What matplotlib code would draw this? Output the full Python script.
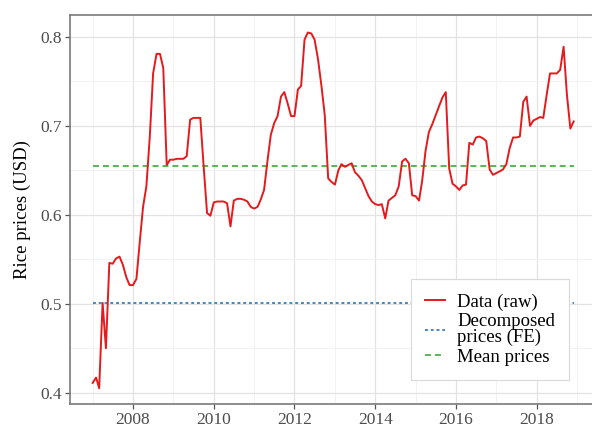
import numpy as np
import pandas as pd
import matplotlib
matplotlib.use("Agg")
import matplotlib.pyplot as plt
import matplotlib.dates as mdates
from matplotlib.ticker import MultipleLocator

# monthly rice prices (USD), Jan 2007 - Dec 2018
prices_2007 = [0.411, 0.417, 0.405, 0.501, 0.450, 0.546, 0.545, 0.551, 0.553, 0.544, 0.530, 0.521]
prices_2008 = [0.521, 0.528, 0.568, 0.609, 0.632, 0.688, 0.759, 0.781, 0.781, 0.765, 0.656, 0.662]
prices_2009 = [0.662, 0.663, 0.663, 0.663, 0.666, 0.707, 0.709, 0.709, 0.709, 0.655, 0.602, 0.599]
prices_2010 = [0.614, 0.615, 0.615, 0.615, 0.613, 0.587, 0.616, 0.618, 0.618, 0.617, 0.615, 0.609]
prices_2011 = [0.607, 0.609, 0.617, 0.628, 0.660, 0.690, 0.703, 0.711, 0.733, 0.738, 0.725, 0.711]
prices_2012 = [0.711, 0.741, 0.745, 0.797, 0.805, 0.804, 0.797, 0.775, 0.745, 0.712, 0.641, 0.637]
prices_2013 = [0.634, 0.650, 0.657, 0.654, 0.656, 0.658, 0.648, 0.644, 0.639, 0.630, 0.621, 0.615]
prices_2014 = [0.612, 0.611, 0.612, 0.596, 0.616, 0.619, 0.622, 0.632, 0.660, 0.663, 0.658, 0.622]
prices_2015 = [0.621, 0.616, 0.638, 0.672, 0.693, 0.702, 0.712, 0.722, 0.732, 0.738, 0.652, 0.635]
prices_2016 = [0.632, 0.628, 0.633, 0.634, 0.681, 0.679, 0.687, 0.688, 0.686, 0.683, 0.651, 0.645]
prices_2017 = [0.647, 0.649, 0.651, 0.657, 0.675, 0.687, 0.687, 0.688, 0.727, 0.733, 0.700, 0.706]
prices_2018 = [0.708, 0.710, 0.709, 0.735, 0.759, 0.759, 0.759, 0.763, 0.789, 0.735, 0.697, 0.705]

fe_price = 0.501     # decomposed prices (FE)
mean_price = 0.655   # mean prices

prices = np.concatenate([prices_2007, prices_2008, prices_2009, prices_2010,
                         prices_2011, prices_2012, prices_2013, prices_2014,
                         prices_2015, prices_2016, prices_2017, prices_2018])
dates = pd.date_range("2007-01-01", periods=len(prices), freq="MS")

plt.rcParams["font.family"] = ["Liberation Serif", "DejaVu Serif"]

fig = plt.figure(figsize=(5.92, 4.28), dpi=100)
ax = fig.add_axes([70 / 592, 24 / 428, 524 / 592, 389 / 428])

ax.plot(dates, prices, color="#E41A1C", lw=1.4, label="Data (raw)", zorder=3)
ax.plot(dates, np.full(len(dates), fe_price), color="#377EB8", lw=1.3,
        linestyle=(0, (1.6, 1.6)), label="Decomposed\nprices (FE)", zorder=2)
ax.plot(dates, np.full(len(dates), mean_price), color="#4DAF4A", lw=1.3,
        linestyle=(0, (3.3, 2.2)), label="Mean prices", zorder=2)

ax.set_xlim(pd.Timestamp("2006-06-10"), pd.Timestamp("2019-06-03"))
ax.set_ylim(0.3873, 0.8247)

ax.xaxis.set_major_locator(mdates.YearLocator(2, month=1, day=1))
ax.xaxis.set_major_formatter(mdates.DateFormatter("%Y"))
minor_years = pd.date_range("2007-01-01", "2019-01-01", freq="2YS")
ax.set_xticks(minor_years, minor=True)
ax.yaxis.set_major_locator(MultipleLocator(0.1))
ax.yaxis.set_minor_locator(MultipleLocator(0.05))

ax.grid(which="major", color="#e3e3e3", lw=0.9)
ax.grid(which="minor", color="#f0f0f0", lw=0.6)
ax.set_axisbelow(True)

for side in ["left", "bottom", "top", "right"]:
    ax.spines[side].set_color("#7a7a7a")
    ax.spines[side].set_linewidth(1.2)

ax.tick_params(which="major", direction="out", length=3.5, width=0.9,
               color="#555555", labelcolor="#4d4d4d", labelsize=12.5, pad=2)
ax.tick_params(which="minor", length=0)

ax.set_ylabel("Rice prices (USD)", fontsize=13.5, color="black", labelpad=7)

leg = ax.legend(loc="lower right", bbox_to_anchor=(0.953, 0.062), borderaxespad=0,
                fontsize=13.5, handlelength=1.1, handletextpad=0.65,
                labelspacing=0.12, borderpad=0.75, fancybox=False,
                edgecolor="#d9d9d9", framealpha=1)
leg.get_frame().set_linewidth(0.8)
for t in leg.get_texts():
    t.set_linespacing(0.95)

fig.savefig("out.png", dpi=100)
